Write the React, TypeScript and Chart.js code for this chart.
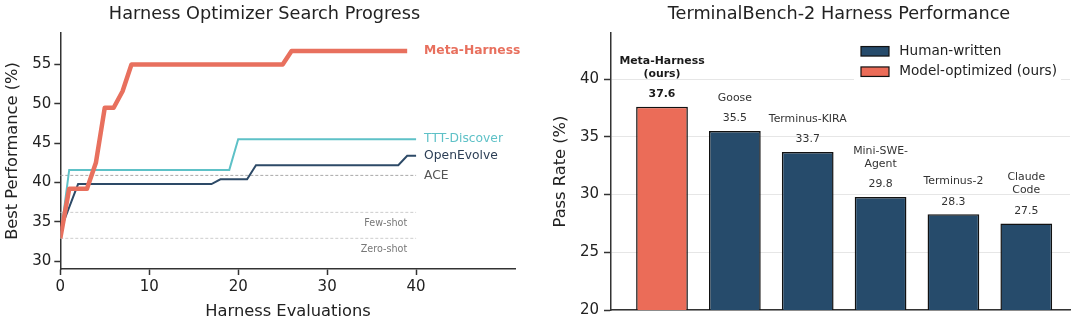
import React, { useEffect, useRef } from "react";
import { Chart, registerables } from "chart.js";

Chart.register(...registerables);

const FONT = '"DejaVu Sans", "Liberation Sans", sans-serif';

// ---------- Left panel: search progress ----------
const metaX = [0, 1, 3, 4, 5, 6, 7, 8, 25, 26, 39];
const metaY = [32.9, 39.2, 39.2, 42.5, 49.5, 49.5, 51.6, 55.0, 55.0, 56.7, 56.7];
const tttX = [0, 1, 19, 20, 40];
const tttY = [32.9, 41.6, 41.6, 45.5, 45.5];
const oeX = [0, 2, 17, 18, 21, 22, 38, 39, 40];
const oeY = [33.9, 39.8, 39.8, 40.4, 40.4, 42.2, 42.2, 43.4, 43.4];
const baselineNames = ["ACE", "Few-shot", "Zero-shot"];
const baselineValues = [40.9, 36.2, 32.9];
const baselineSpan = [0, 40];
const leftXTicks = [0, 10, 20, 30, 40];
const leftYTicks = [30, 35, 40, 45, 50, 55];

// ---------- Right panel: TerminalBench-2 ----------
const harnessNames = [
  ["Meta-Harness", "(ours)"],
  ["Goose"],
  ["Terminus-KIRA"],
  ["Mini-SWE-", "Agent"],
  ["Terminus-2"],
  ["Claude", "Code"],
];
const passRates = [37.6, 35.5, 33.7, 29.8, 28.3, 27.5];
const harnessGroup = ["model", "human", "human", "human", "human", "human"];
const legendLabels = ["Human-written", "Model-optimized (ours)"];
const rightYTicks = [20, 25, 30, 35, 40];

const RED_LINE = "#E8705E";
const RED_BAR = "#EB6C58";
const NAVY_LINE = "#2D4A67";
const NAVY_BAR = "#264B6B";
const CYAN = "#5EC1C7";
const AXIS = "#333333";
const TEXT = "#222222";

const toXY = (xs: number[], ys: number[]) => xs.map((x, i) => ({ x, y: ys[i] }));

function LeftChart() {
  const ref = useRef<HTMLCanvasElement | null>(null);
  useEffect(() => {
    if (!ref.current) return;
    const seriesLabels = [
      { text: "Meta-Harness", x: metaX[metaX.length - 1], y: metaY[metaY.length - 1], color: RED_LINE, bold: true },
      { text: "TTT-Discover", x: tttX[tttX.length - 1], y: tttY[tttY.length - 1], color: CYAN, bold: false },
      { text: "OpenEvolve", x: oeX[oeX.length - 1], y: oeY[oeY.length - 1], color: "#2C3E55", bold: false },
      { text: baselineNames[0], x: baselineSpan[1], y: baselineValues[0], color: "#555555", bold: false },
    ];
    const labelPlugin = {
      id: "leftLabels",
      afterDatasetsDraw(chart: any) {
        const { ctx, scales } = chart;
        const xs = scales.x;
        const ys = scales.y;
        ctx.save();
        ctx.fillStyle = TEXT;
        ctx.font = `17.7px ${FONT}`;
        ctx.textAlign = "center";
        ctx.textBaseline = "middle";
        ctx.fillText("Harness Optimizer Search Progress", 264.5, 14);
        ctx.textAlign = "left";
        const labelX = xs.getPixelForValue(40.9);
        seriesLabels.forEach((l) => {
          ctx.font = `${l.bold ? "bold " : ""}12.3px ${FONT}`;
          ctx.fillStyle = l.color;
          ctx.fillText(l.text, labelX, ys.getPixelForValue(l.y));
        });
        ctx.textAlign = "right";
        ctx.font = `9.6px ${FONT}`;
        ctx.fillStyle = "#777777";
        for (let i = 1; i < baselineNames.length; i++) {
          ctx.fillText(baselineNames[i], xs.getPixelForValue(39), ys.getPixelForValue(baselineValues[i]) + 11.5);
        }
        ctx.restore();
      },
    };

    const baseDatasets = baselineNames.map((name, i) => ({
      label: name,
      data: toXY(baselineSpan, [baselineValues[i], baselineValues[i]]),
      borderColor: i === 0 ? "#A8A8A8" : "#CDCDCD",
      borderWidth: 1,
      borderDash: [3, 2],
      pointRadius: 0,
      order: 5 + i,
    }));

    const chart = new Chart(ref.current, {
      type: "line",
      data: {
        datasets: [
          { label: "Meta-Harness", data: toXY(metaX, metaY), borderColor: RED_LINE, borderWidth: 4.5, pointRadius: 0, order: 0, borderJoinStyle: "round", borderCapStyle: "butt" },
          { label: "TTT-Discover", data: toXY(tttX, tttY), borderColor: CYAN, borderWidth: 2, pointRadius: 0, order: 2 },
          { label: "OpenEvolve", data: toXY(oeX, oeY), borderColor: NAVY_LINE, borderWidth: 2, pointRadius: 0, order: 1 },
          ...baseDatasets,
        ] as any,
      },
      options: {
        responsive: false,
        animation: false,
        events: [],
        layout: { padding: { top: 33, right: 24.3, bottom: 0, left: 0 } },
        plugins: { legend: { display: false }, title: { display: false }, tooltip: { enabled: false } },
        scales: {
          x: {
            type: "linear",
            min: 0,
            max: 51.2,
            afterFit: (s: any) => { s.height = 55; },
            afterBuildTicks: (s: any) => { s.ticks = leftXTicks.map((v) => ({ value: v })); },
            grid: { drawOnChartArea: false, drawTicks: true, tickLength: 6, tickWidth: 1.5, tickColor: AXIS },
            border: { display: true, color: AXIS, width: 1.5 },
            ticks: { font: { family: FONT, size: 15 }, color: TEXT, padding: 3, maxRotation: 0 },
            title: { display: true, text: "Harness Evaluations", font: { family: FONT, size: 16.3 }, color: TEXT, padding: { top: 0, bottom: 2.2 } },
          },
          y: {
            type: "linear",
            min: 29,
            max: 59,
            afterFit: (s: any) => { s.width = 60.3; },
            afterBuildTicks: (s: any) => { s.ticks = leftYTicks.map((v) => ({ value: v })); },
            grid: { drawOnChartArea: false, drawTicks: true, tickLength: 6, tickWidth: 1.5, tickColor: AXIS },
            border: { display: true, color: AXIS, width: 1.5 },
            ticks: { font: { family: FONT, size: 15 }, color: TEXT, padding: 3 },
            title: { display: true, text: "Best Performance (%)", font: { family: FONT, size: 16.3 }, color: TEXT, padding: { top: 3.2, bottom: 0 } },
          },
        },
      } as any,
      plugins: [labelPlugin],
    });
    return () => chart.destroy();
  }, []);
  return <canvas ref={ref} width={540} height={324} style={{ position: "absolute", left: 0, top: 0 }} />;
}

function RightChart() {
  const ref = useRef<HTMLCanvasElement | null>(null);
  useEffect(() => {
    if (!ref.current) return;
    const annotPlugin = {
      id: "rightLabels",
      afterDatasetsDraw(chart: any) {
        const { ctx } = chart;
        const meta = chart.getDatasetMeta(0);
        ctx.save();
        ctx.fillStyle = TEXT;
        ctx.font = `17.7px ${FONT}`;
        ctx.textAlign = "center";
        ctx.textBaseline = "middle";
        ctx.fillText("TerminalBench-2 Harness Performance", 299, 14);
        meta.data.forEach((bar: any, i: number) => {
          const bold = harnessGroup[i] === "model";
          ctx.font = `${bold ? "bold " : ""}10.9px ${FONT}`;
          ctx.fillStyle = bold ? "#1a1a1a" : "#333333";
          const valueY = bar.y - 12.5;
          ctx.fillText(passRates[i].toFixed(1), bar.x, valueY);
          const lines = harnessNames[i];
          const lastY = valueY - 20.5;
          lines.forEach((ln, j) => {
            ctx.fillText(ln, bar.x, lastY - (lines.length - 1 - j) * 13);
          });
        });
        ctx.fillStyle = "#ffffff";
        ctx.fillRect(314, 37, 207, 47);
        const legendColors = [NAVY_BAR, RED_BAR];
        legendLabels.forEach((lab, i) => {
          const cy = 51.3 + i * 20.4;
          ctx.fillStyle = legendColors[i];
          ctx.fillRect(321, cy - 4.75, 28, 9.5);
          ctx.strokeStyle = "#111111";
          ctx.lineWidth = 1.2;
          ctx.strokeRect(321, cy - 4.75, 28, 9.5);
          ctx.fillStyle = TEXT;
          ctx.font = `13.6px ${FONT}`;
          ctx.textAlign = "left";
          ctx.fillText(lab, 359.3, cy);
        });
        ctx.restore();
      },
    };

    const chart = new Chart(ref.current, {
      type: "bar",
      data: {
        datasets: [
          {
            label: "Pass Rate",
            data: passRates.map((v, i) => ({ x: i, y: v })),
            backgroundColor: harnessGroup.map((g) => (g === "model" ? RED_BAR : NAVY_BAR)),
            borderColor: "#111111",
            borderWidth: 1.5,
            borderSkipped: false,
            barPercentage: 0.71,
            categoryPercentage: 1,
          },
        ] as any,
      },
      options: {
        responsive: false,
        animation: false,
        events: [],
        layout: { padding: { top: 33, right: 10, bottom: 0, left: 0 } },
        plugins: { legend: { display: false }, title: { display: false }, tooltip: { enabled: false } },
        scales: {
          x: {
            type: "linear",
            min: -0.7,
            max: 5.6,
            offset: false,
            afterFit: (s: any) => { s.height = 13; },
            afterBuildTicks: (s: any) => { s.ticks = passRates.map((_, i) => ({ value: i })); },
            grid: { display: false },
            border: { display: true, color: AXIS, width: 1.5 },
            ticks: { display: false },
          },
          y: {
            type: "linear",
            min: 20,
            max: 44,
            afterFit: (s: any) => { s.width = 71; },
            afterBuildTicks: (s: any) => { s.ticks = rightYTicks.map((v) => ({ value: v })); },
            grid: { display: true, drawOnChartArea: true, color: "#E6E6E6", lineWidth: 1, drawTicks: true, tickLength: 7, tickWidth: 1.5, tickColor: AXIS },
            border: { display: true, color: AXIS, width: 1.5 },
            ticks: { font: { family: FONT, size: 15 }, color: TEXT, padding: 5 },
            title: { display: true, text: "Pass Rate (%)", font: { family: FONT, size: 16.3 }, color: TEXT, padding: { top: 11.4, bottom: 0 } },
          },
        },
      } as any,
      plugins: [annotPlugin],
    });
    return () => chart.destroy();
  }, []);
  return <canvas ref={ref} width={540} height={324} style={{ position: "absolute", left: 540, top: 0 }} />;
}

export default function App() {
  return (
    <div style={{ position: "absolute", left: 0, top: 0, width: 1080, height: 324, background: "#ffffff", overflow: "hidden" }}>
      <LeftChart />
      <RightChart />
    </div>
  );
}
